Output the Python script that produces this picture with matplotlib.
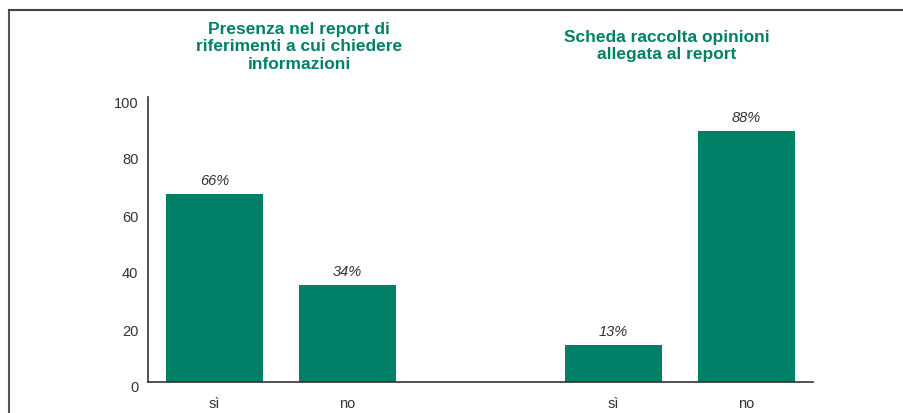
import matplotlib.pyplot as plt
import matplotlib.transforms as mtransforms
from matplotlib.lines import Line2D

plt.rcParams['font.family'] = ['Liberation Sans', 'DejaVu Sans']

categories = ['sì', 'no', 'sì', 'no']
positions = [0, 1, 3, 4]
values = [66, 34, 13, 88]
labels = ['66%', '34%', '13%', '88%']
titles = ['Presenza nel report di\nriferimenti a cui chiedere\ninformazioni',
          'Scheda raccolta opinioni\nallegata al report']
yticks = [0, 20, 40, 60, 80, 100]

green = '#008066'
dark = '#333333'

fig = plt.figure(figsize=(9.04, 4.13), dpi=100)
ax = fig.add_axes([148 / 904, 1 - 382 / 413, 665 / 904, 285 / 413])

ax.bar(positions, values, width=0.73, color=green, zorder=2)
for x, v, t in zip(positions, values, labels):
    ax.text(x, v + 2, t, ha='center', va='bottom', fontsize=10.5,
            style='italic', color=dark)

ax.set_xlim(-0.5, 4.5)
ax.set_ylim(0, 100)
ax.set_yticks(yticks)
ax.set_xticks(positions)
ax.set_xticklabels(categories)
ax.tick_params(axis='both', length=0, labelsize=10.5, colors=dark)
ax.tick_params(axis='y', pad=7)
ax.tick_params(axis='x', pad=11)
# y labels sit slightly below their gridline in the original
shift = mtransforms.ScaledTranslation(0, -0.05, fig.dpi_scale_trans)
for lbl in ax.get_yticklabels():
    lbl.set_transform(lbl.get_transform() + shift)
for s in ['top', 'right']:
    ax.spines[s].set_visible(False)
for s in ['left', 'bottom']:
    ax.spines[s].set_color(dark)
    ax.spines[s].set_linewidth(1.2)

fig.text(299 / 904, 1 - 22 / 413, titles[0], ha='center', va='top',
         fontsize=12.5, fontweight='bold', color=green, linespacing=1.2)
fig.text(667 / 904, 1 - 30 / 413, titles[1], ha='center', va='top',
         fontsize=12.5, fontweight='bold', color=green, linespacing=1.2)

# frame
fig.add_artist(Line2D([9 / 904, 9 / 904], [0, 1 - 10 / 413],
                      transform=fig.transFigure, color='#555555', lw=1.5))
fig.add_artist(Line2D([9 / 904, 1], [1 - 10 / 413, 1 - 10 / 413],
                      transform=fig.transFigure, color='#444444', lw=1.5))

fig.savefig('out.png', dpi=100)
